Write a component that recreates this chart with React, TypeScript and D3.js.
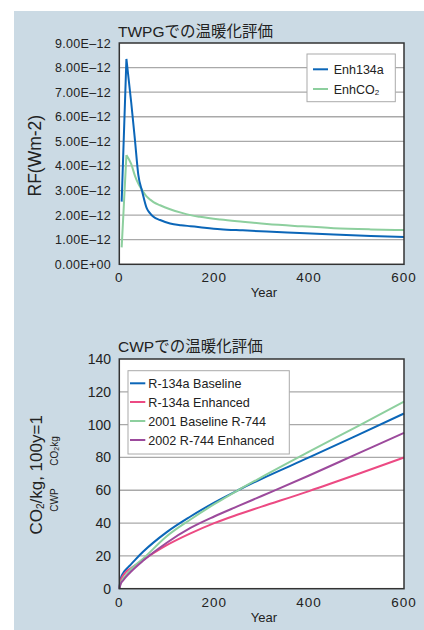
import React from 'react';
import * as d3 from 'd3';

// ---- Chart 1: TWPG RF ----
const rfYears = [5, 15, 25, 33, 40, 48, 58, 65, 72, 86, 107, 130, 150, 170, 213, 260, 311, 380, 452, 530, 600];
const enh134a = [2.55, 8.35, 6.6, 5.05, 3.65, 2.98, 2.27, 2.07, 1.93, 1.8, 1.66, 1.59, 1.55, 1.51, 1.43, 1.38, 1.33, 1.27, 1.21, 1.15, 1.11];
const enhCO2 = [0.69, 4.44, 4.08, 3.6, 3.28, 3.02, 2.75, 2.63, 2.53, 2.4, 2.24, 2.1, 2.0, 1.93, 1.82, 1.73, 1.64, 1.55, 1.47, 1.42, 1.39];
const rfTickValues = [0, 1, 2, 3, 4, 5, 6, 7, 8, 9];
const rfTickLabels = ['0.00E+00', '1.00E–12', '2.00E–12', '3.00E–12', '4.00E–12', '5.00E–12', '6.00E–12', '7.00E–12', '8.00E–12', '9.00E–12'];
const yearTicks = [0, 200, 400, 600];

// ---- Chart 2: CWP ----
const cwpYears = [0, 3, 8, 15, 25, 50, 100, 150, 200, 250, 300, 400, 500, 600];
const r134aBaseline = [0, 6, 9.5, 12, 15, 22.5, 34.5, 44, 52.5, 60, 67, 80, 93.3, 106.8];
const r134aEnhanced = [0, 5, 8, 10.5, 12.5, 17.5, 26.5, 33.7, 40, 45.2, 50, 59.5, 69.6, 80];
const baseline2001R744 = [0, 3.5, 6, 8.5, 12, 18.3, 32, 42.2, 51.5, 60, 68, 83.5, 98.7, 114];
const enhanced2002R744 = [0, 3, 5, 7.5, 10.5, 17, 28, 37, 44, 50.3, 56.5, 69, 82, 95];
const cwpTicks = [0, 20, 40, 60, 80, 100, 120, 140];

const FONT = "'Liberation Sans', Arial, 'Noto Sans CJK JP', sans-serif";
const C_BLUE = '#0b66b8';
const C_GREEN = '#8dcf9e';
const C_PINK = '#ec4a83';
const C_PURPLE = '#9c4a9c';
const GRID = '#a9a9a9';
const TXT = '#222';

export default function App() {
  const L = 119.3, R = 404;
  const t1 = 43, b1 = 264.3;
  const t2 = 359, b2 = 588.7;

  const x = d3.scaleLinear().domain([0, 600]).range([L, R]);
  const y1 = d3.scaleLinear().domain([0, 9]).range([b1, t1]);
  const y2 = d3.scaleLinear().domain([0, 140]).range([b2, t2]);

  // rising part linear (sharp peak), decay smooth
  const line1 = (vals: number[]) => {
    const pts = vals.map((v, i) => [x(rfYears[i]), y1(v)] as [number, number]);
    const rise = d3.line().curve(d3.curveLinear)(pts.slice(0, 2)) || '';
    const decay = d3.line().curve(d3.curveMonotoneX)(pts.slice(1)) || '';
    return rise + decay;
  };
  const line2 = (vals: number[]) =>
    d3.line<number>().curve(d3.curveMonotoneX).x((_, i) => x(cwpYears[i])).y((d) => y2(d))(vals) || '';

  const series2 = [
    { name: 'R-134a Baseline', vals: r134aBaseline, color: C_BLUE },
    { name: 'R-134a Enhanced', vals: r134aEnhanced, color: C_PINK },
    { name: '2001 Baseline R-744', vals: baseline2001R744, color: C_GREEN },
    { name: '2002 R-744 Enhanced', vals: enhanced2002R744, color: C_PURPLE },
  ];
  const legend2Rows = [383.3, 402, 421, 440];

  return (
    <svg width={424} height={630} style={{ position: 'absolute', left: 0, top: 0 }} fontFamily={FONT}>
      <rect x={0} y={0} width={424} height={630} fill="#fff" />
      <rect x={14} y={11} width={410} height={619} fill="#cbdae4" />

      {/* ===== Chart 1 ===== */}
      <text x={118} y={36.5} fontSize={15.5} fill={TXT}>TWPGでの温暖化評価</text>
      <rect x={L} y={t1} width={R - L} height={b1 - t1} fill="#fff" />
      {rfTickValues.slice(1, -1).map((v) => (
        <line key={'g1' + v} x1={L} x2={R} y1={y1(v)} y2={y1(v)} stroke={GRID} strokeWidth={1.3} />
      ))}
      <path d={line1(enhCO2)} fill="none" stroke={C_GREEN} strokeWidth={2} strokeLinejoin="round" />
      <path d={line1(enh134a)} fill="none" stroke={C_BLUE} strokeWidth={2} strokeLinejoin="round" />
      <rect x={L} y={t1} width={R - L} height={b1 - t1} fill="none" stroke="#333" strokeWidth={1.5} />
      {rfTickValues.map((v, i) => (
        <text key={'yl1' + v} x={111} y={y1(v)} dy="0.36em" textAnchor="end" fontSize={12.5} letterSpacing={0.3} fill={TXT}>
          {rfTickLabels[i]}
        </text>
      ))}
      {yearTicks.map((v) => (
        <text key={'xl1' + v} x={x(v)} y={282} textAnchor="middle" fontSize={13.5} letterSpacing={1} fill={TXT}>
          {v}
        </text>
      ))}
      <text x={264} y={297} textAnchor="middle" fontSize={13} fill={TXT}>Year</text>
      <text transform={`translate(41,${(t1 + b1) / 2 + 2}) rotate(-90)`} textAnchor="middle" fontSize={17.5} fill={TXT}>RF(Wm-2)</text>

      {/* legend 1 */}
      <rect x={307} y={54} width={88.3} height={47.7} fill="#fff" stroke="#aaa" strokeWidth={1} />
      <line x1={313} x2={328} y1={69.3} y2={69.3} stroke={C_BLUE} strokeWidth={2} />
      <text x={333.7} y={69.3} dy="0.36em" fontSize={12.5} fill={TXT}>Enh134a</text>
      <line x1={313} x2={328} y1={89} y2={89} stroke={C_GREEN} strokeWidth={2} />
      <text x={333.7} y={89} dy="0.36em" fontSize={12.5} fill={TXT}>
        EnhCO<tspan fontSize={8} dy="1">2</tspan>
      </text>

      {/* ===== Chart 2 ===== */}
      <text x={118} y={352} fontSize={15.5} fill={TXT}>CWPでの温暖化評価</text>
      <rect x={L} y={t2} width={R - L} height={b2 - t2} fill="#fff" />
      {cwpTicks.slice(1, -1).map((v) => (
        <line key={'g2' + v} x1={L} x2={R} y1={y2(v)} y2={y2(v)} stroke={GRID} strokeWidth={1.3} />
      ))}
      {series2.map((s) => (
        <path key={s.name} d={line2(s.vals)} fill="none" stroke={s.color} strokeWidth={2} />
      ))}
      <rect x={L} y={t2} width={R - L} height={b2 - t2} fill="none" stroke="#333" strokeWidth={1.5} />
      {cwpTicks.map((v) => (
        <text key={'yl2' + v} x={111} y={y2(v)} dy="0.36em" textAnchor="end" fontSize={14} fill={TXT}>
          {v}
        </text>
      ))}
      {yearTicks.map((v) => (
        <text key={'xl2' + v} x={x(v)} y={607} textAnchor="middle" fontSize={13.5} letterSpacing={1} fill={TXT}>
          {v}
        </text>
      ))}
      <text x={264} y={622} textAnchor="middle" fontSize={13} fill={TXT}>Year</text>
      <text transform={`translate(42,${(t2 + b2) / 2 + 1}) rotate(-90)`} textAnchor="middle" fontSize={17} fill={TXT}>
        CO<tspan fontSize={10} dy="2">2</tspan><tspan dy="-2">/kg, 100y=1</tspan>
      </text>
      <text transform={`translate(58,500) rotate(-90)`} textAnchor="middle" fontSize={10} fill={TXT}>CWP</text>
      <text transform={`translate(58,451) rotate(-90)`} textAnchor="middle" fontSize={10} fill={TXT}>
        CO<tspan fontSize={7} dy="1">2</tspan><tspan dy="-1">kg</tspan>
      </text>

      {/* legend 2 */}
      <rect x={128} y={370.7} width={161.3} height={83.3} fill="#fff" stroke="#aaa" strokeWidth={1} />
      {series2.map((s, i) => (
        <g key={'lg' + s.name}>
          <line x1={130} x2={145.3} y1={legend2Rows[i]} y2={legend2Rows[i]} stroke={s.color} strokeWidth={2} />
          <text x={148.3} y={legend2Rows[i]} dy="0.36em" fontSize={12.6} fill={TXT}>{s.name}</text>
        </g>
      ))}
    </svg>
  );
}
